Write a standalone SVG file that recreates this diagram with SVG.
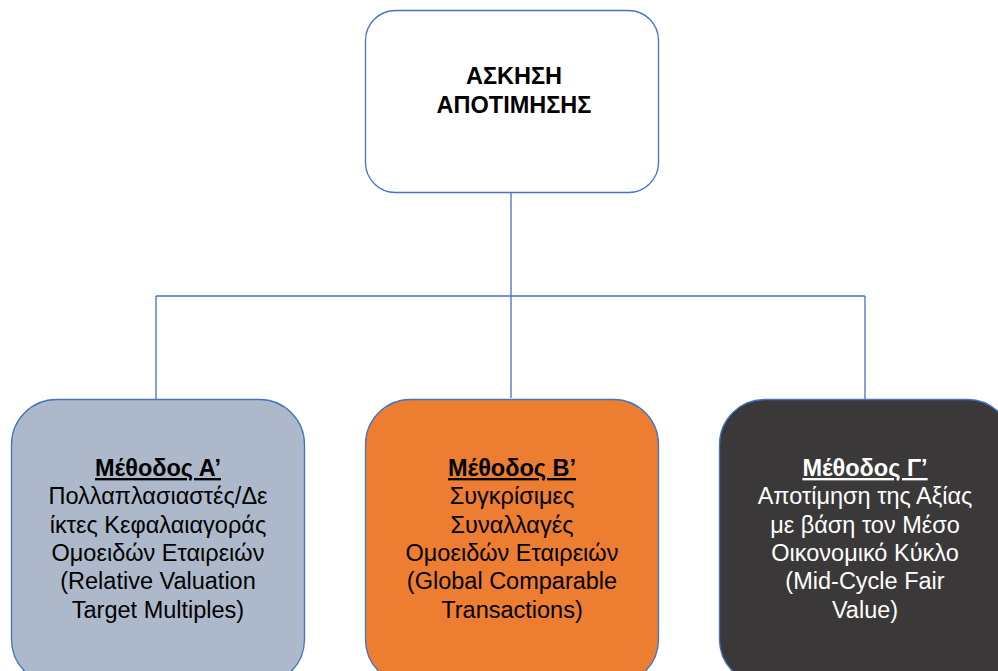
<svg xmlns="http://www.w3.org/2000/svg" width="998" height="671" viewBox="0 0 998 671">
<style>
.box{stroke:#4472C4;stroke-width:1.3}
.t{font-family:"Liberation Sans",Arial,sans-serif;font-size:23.5px;text-anchor:middle;fill:#000}
.b{font-weight:bold}
.u{font-weight:bold;text-decoration:underline}
.w{fill:#fff}
.con{stroke:#4472C4;stroke-width:1.3;fill:none}
</style>
<rect width="998" height="671" fill="#fff"/>
<g id="connectors">
<path class="con" d="M511 193 V398"/>
<path class="con" d="M156 296 H865"/>
<path class="con" d="M156 296 V399"/>
<path class="con" d="M865 296 V399"/>
</g>
<g id="root">
<rect class="box" x="365.5" y="10.5" width="293" height="182" rx="30" fill="#fff"/>
<text class="t b" x="514" y="84">ΑΣΚΗΣΗ</text>
<text class="t b" x="514" y="113">ΑΠΟΤΙΜΗΣΗΣ</text>
</g>
<g id="methodA">
<rect class="box" x="11.5" y="399.5" width="293" height="285" rx="45" fill="#ADB9CA"/>
<text class="t u" x="158" y="476">Μέθοδος Α’</text>
<text class="t" x="158" y="504.3">Πολλαπλασιαστές/Δε</text>
<text class="t" x="158" y="532.6">ίκτες Κεφαλαιαγοράς</text>
<text class="t" x="158" y="561">Ομοειδών Εταιρειών</text>
<text class="t" x="158" y="589.3">(Relative Valuation</text>
<text class="t" x="158" y="617.6">Target Multiples)</text>
</g>
<g id="methodB">
<rect class="box" x="365.5" y="399.5" width="293" height="285" rx="45" fill="#ED7D31"/>
<text class="t u" x="512" y="476">Μέθοδος Β’</text>
<text class="t" x="512" y="504.3">Συγκρίσιμες</text>
<text class="t" x="512" y="532.6">Συναλλαγές</text>
<text class="t" x="512" y="561">Ομοειδών Εταιρειών</text>
<text class="t" x="512" y="589.3">(Global Comparable</text>
<text class="t" x="512" y="617.6">Transactions)</text>
</g>
<g id="methodC">
<rect class="box" x="719.5" y="399.5" width="293" height="285" rx="45" fill="#3A3838"/>
<text class="t u w" x="865" y="476">Μέθοδος Γ’</text>
<text class="t w" x="865" y="504.3">Αποτίμηση της Αξίας</text>
<text class="t w" x="865" y="532.6">με βάση τον Μέσο</text>
<text class="t w" x="865" y="561">Οικονομικό Κύκλο</text>
<text class="t w" x="865" y="589.3">(Mid-Cycle Fair</text>
<text class="t w" x="865" y="617.6">Value)</text>
</g>
</svg>
